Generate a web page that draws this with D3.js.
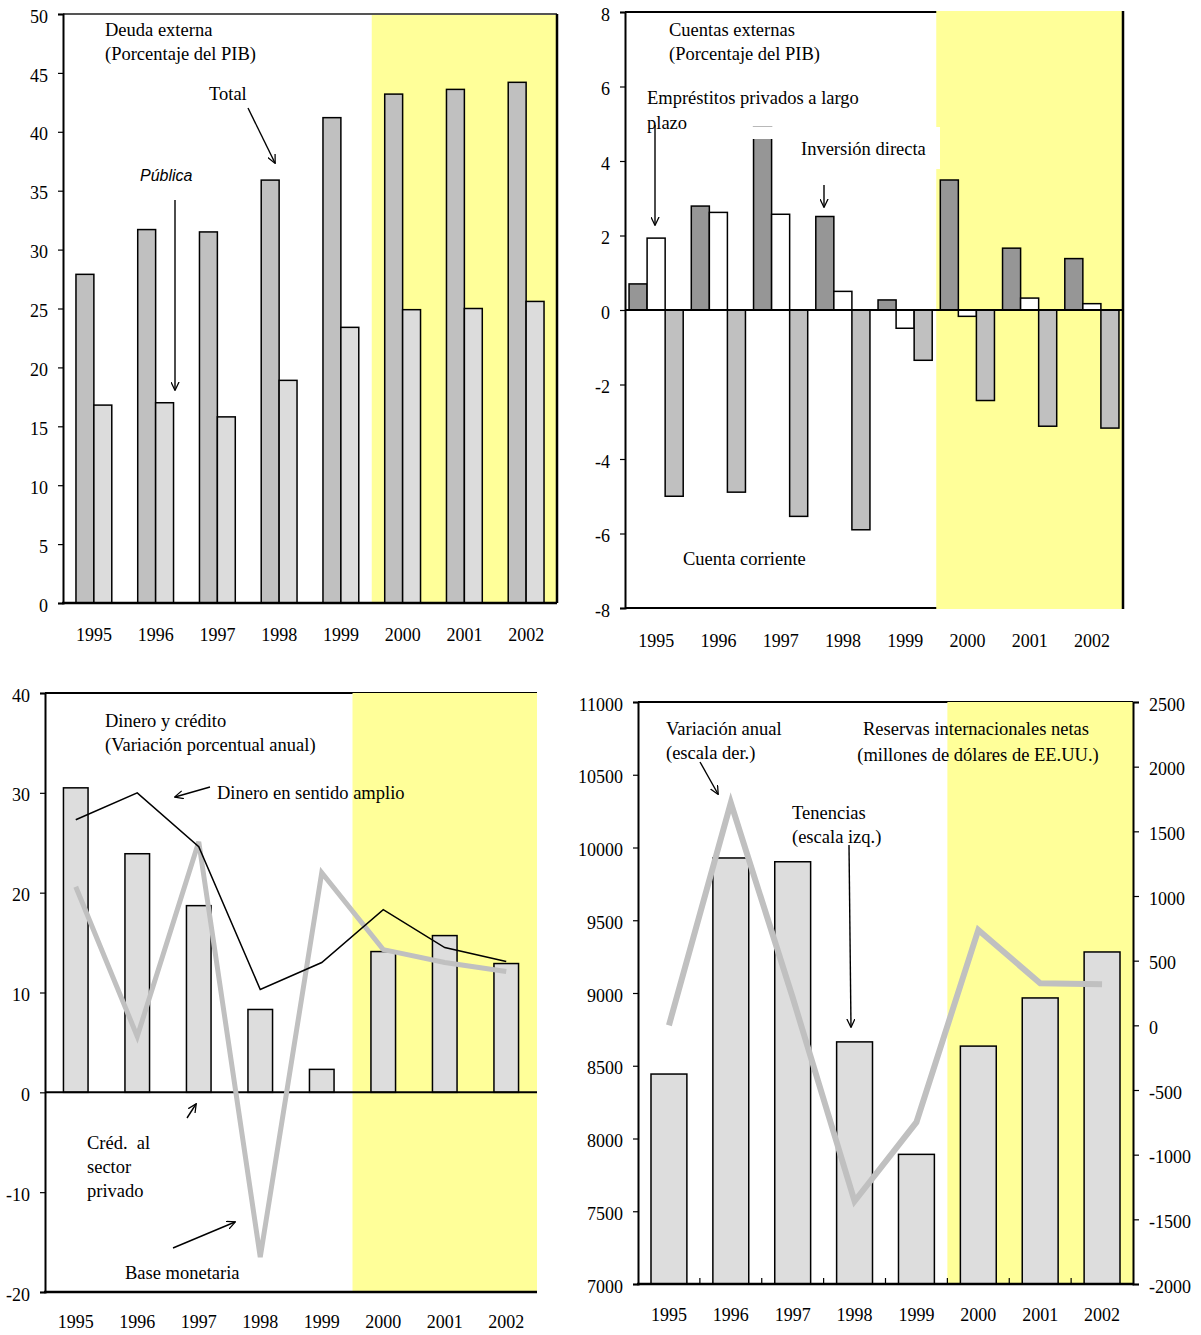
<!DOCTYPE html>
<html>
<head>
<meta charset="utf-8">
<script src="https://cdn.jsdelivr.net/npm/d3@7"></script>
<style>
body { margin: 0; background: #fff; }
svg text { font-family: "Liberation Serif", "Times New Roman", serif; fill: #000; }
</style>
</head>
<body>
<script>
var years = ["1995", "1996", "1997", "1998", "1999", "2000", "2001", "2002"];
var forecastYears = ["2000", "2001", "2002"];

// Deuda externa
var deudaTotal = [27.9, 31.7, 31.5, 35.9, 41.2, 43.2, 43.6, 44.2];
var deudaPublica = [16.8, 17.0, 15.8, 18.9, 23.4, 24.9, 25.0, 25.6];
var ticks1 = [0, 5, 10, 15, 20, 25, 30, 35, 40, 45, 50];

// Cuentas externas
var invDirecta = [0.7, 2.79, 4.9, 2.51, 0.27, 3.49, 1.66, 1.38];
var emprestitos = [1.93, 2.62, 2.57, 0.5, -0.49, -0.17, 0.32, 0.17];
var ctaCorriente = [-5.0, -4.89, -5.54, -5.9, -1.35, -2.43, -3.12, -3.17];
var ticks2 = [-8, -6, -4, -2, 0, 2, 4, 6, 8];

// Dinero y credito
var credPrivado = [30.5, 23.9, 18.7, 8.3, 2.3, 14.1, 15.7, 12.9];
var dineroAmplio = [27.3, 30.0, 24.6, 10.3, 13.0, 18.3, 14.5, 13.1];
var baseMonetaria = [20.6, 5.6, 25.1, -16.5, 22.0, 14.3, 13.0, 12.1];
var ticks3 = [-20, -10, 0, 10, 20, 30, 40];

// Reservas internacionales netas
var tenencias = [8443, 9928, 9902, 8664, 7891, 8635, 8966, 9282];
var variacion = [0, 1720, 215, -1360, -749, 738, 325, 318];
var ticks4L = [7000, 7500, 8000, 8500, 9000, 9500, 10000, 10500, 11000];
var ticks4R = [-2000, -1500, -1000, -500, 0, 500, 1000, 1500, 2000, 2500];

var svg = d3.select("body")
            .append("svg")
            .attr("width", 1201)
            .attr("height", 1335);

svg.append("defs").append("marker")
   .attr("id", "arr")
   .attr("viewBox", "0 0 10 10")
   .attr("refX", 9).attr("refY", 5)
   .attr("markerWidth", 9).attr("markerHeight", 9)
   .attr("markerUnits", "userSpaceOnUse")
   .attr("orient", "auto")
   .append("path")
   .attr("d", "M0,0.5 L9.5,5 L0,9.5")
   .attr("fill", "none")
   .attr("stroke", "#000")
   .attr("stroke-width", 1.4);

// plain hyphen for negatives, like the original
var fmt = function(d) { return String(d); };

function label(x, y, txt, opts) {
  opts = opts || {};
  return svg.append("text")
     .attr("x", x).attr("y", y)
     .attr("font-size", opts.size || 18.5)
     .attr("text-anchor", opts.anchor || "start")
     .attr("font-style", opts.italic ? "italic" : null)
     .style("font-family", opts.sans ? "'Liberation Sans', Arial, sans-serif" : null)
     .text(txt);
}

function arrow(x1, y1, x2, y2) {
  svg.append("line")
     .attr("x1", x1).attr("y1", y1).attr("x2", x2).attr("y2", y2)
     .attr("stroke", "#000").attr("stroke-width", 1.4)
     .attr("marker-end", "url(#arr)");
}

function yellow(x, yTop, yBot, xEnd) {
  // shaded area for the projection years
  var xs = x(forecastYears[0]) - (x.step() - x.bandwidth()) / 2;
  svg.append("rect")
     .attr("x", xs)
     .attr("y", yTop)
     .attr("width", xEnd - xs)
     .attr("height", yBot - yTop)
     .attr("fill", "#ffff99");
}

function leftAxis(y, ticks, x0) {
  var g = svg.append("g")
     .attr("transform", "translate(" + x0 + ",0)")
     .call(d3.axisLeft(y).tickValues(ticks).tickSize(5).tickPadding(10).tickFormat(fmt));
  g.selectAll("text").attr("font-size", 18).attr("dy", "0.45em")
   .style("font-family", "'Liberation Serif', serif");
  g.selectAll("line").attr("stroke", "#000").attr("stroke-width", 1.2);
  g.select(".domain").attr("stroke", "#000").attr("stroke-width", 2);
  return g;
}

function yearLabels(x, yPos) {
  svg.append("g").selectAll("text")
     .data(years)
     .enter()
     .append("text")
     .attr("x", function(d) { return x(d) + x.bandwidth() / 2; })
     .attr("y", yPos)
     .attr("text-anchor", "middle")
     .attr("font-size", 18)
     .text(function(d) { return d; });
}

function hline(x1, x2, y, w, c) {
  svg.append("line").attr("x1", x1).attr("x2", x2).attr("y1", y).attr("y2", y)
     .attr("stroke", c || "#000").attr("stroke-width", w || 2);
}
function vline(x, y1, y2, w, c) {
  svg.append("line").attr("x1", x).attr("x2", x).attr("y1", y1).attr("y2", y2)
     .attr("stroke", c || "#000").attr("stroke-width", w || 2);
}

// ---------------- Panel 1: Deuda externa ----------------
var x1 = d3.scaleBand().domain(years).range([63, 557]).paddingInner(0.42).paddingOuter(0.21);
var y1 = d3.scaleLinear().domain([0, 50]).range([603, 14]);
var s1 = d3.scaleBand().domain(["t", "p"]).range([0, x1.bandwidth()]);

yellow(x1, 14, 603, 557);
hline(63, 557, 14, 2, "#555");
vline(557, 14, 603, 2.5);

var bars1 = svg.append("g");
bars1.selectAll("rect.t")
   .data(deudaTotal)
   .enter()
   .append("rect")
   .attr("x", function(d, i) { return x1(years[i]) + s1("t"); })
   .attr("y", function(d) { return y1(d); })
   .attr("width", s1.bandwidth())
   .attr("height", function(d) { return y1(0) - y1(d); })
   .attr("fill", "#c0c0c0").attr("stroke", "#000").attr("stroke-width", 1.5);
bars1.selectAll("rect.p")
   .data(deudaPublica)
   .enter()
   .append("rect")
   .attr("x", function(d, i) { return x1(years[i]) + s1("p"); })
   .attr("y", function(d) { return y1(d); })
   .attr("width", s1.bandwidth())
   .attr("height", function(d) { return y1(0) - y1(d); })
   .attr("fill", "#dcdcdc").attr("stroke", "#000").attr("stroke-width", 1.5);

leftAxis(y1, ticks1, 63);
hline(62, 557, 603, 2.5);
yearLabels(x1, 641);

label(105, 36, "Deuda externa");
label(105, 60, "(Porcentaje del PIB)");
label(209, 100, "Total");
arrow(248, 108, 275, 163);
label(140, 181, "Pública", {italic: true, sans: true, size: 16});
arrow(175, 200, 175, 390);

// ---------------- Panel 2: Cuentas externas ----------------
var x2 = d3.scaleBand().domain(years).range([625, 1123]).paddingInner(0.13).paddingOuter(0.065);
var y2 = d3.scaleLinear().domain([-8, 8]).range([608, 12]);
var s2 = d3.scaleBand().domain(["inv", "emp", "cc"]).range([0, x2.bandwidth()]);

hline(625, 1123, 12, 2);
hline(625, 1123, 608, 2);
yellow(x2, 11, 609, 1123);
vline(1123, 11, 609, 2.5);

var series2 = [
  {key: "inv", vals: invDirecta, fill: "#969696"},
  {key: "emp", vals: emprestitos, fill: "#ffffff"},
  {key: "cc", vals: ctaCorriente, fill: "#c0c0c0"}
];
series2.forEach(function(s) {
  svg.append("g").selectAll("rect")
     .data(s.vals)
     .enter()
     .append("rect")
     .attr("x", function(d, i) { return x2(years[i]) + s2(s.key); })
     .attr("y", function(d) { return y2(Math.max(0, d)); })
     .attr("width", s2.bandwidth())
     .attr("height", function(d) { return Math.abs(y2(d) - y2(0)); })
     .attr("fill", s.fill).attr("stroke", "#000").attr("stroke-width", 1.5);
});

// white label box that hides the top of the 1997 bar
svg.append("rect").attr("x", 750).attr("y", 127).attr("width", 190).attr("height", 12).attr("fill", "#fff");
svg.append("rect").attr("x", 792).attr("y", 127).attr("width", 148).attr("height", 42).attr("fill", "#fff");

hline(625, 1123, y2(0), 2);
leftAxis(y2, ticks2, 625);
yearLabels(x2, 647);

label(669, 36, "Cuentas externas");
label(669, 60, "(Porcentaje del PIB)");
label(647, 104, "Empréstitos privados a largo");
label(647, 129, "plazo");
arrow(655, 125, 655, 225);
label(801, 155, "Inversión directa");
arrow(824, 185, 824, 207);
label(683, 565, "Cuenta corriente");

// ---------------- Panel 3: Dinero y credito ----------------
var x3 = d3.scaleBand().domain(years).range([45, 537]).paddingInner(0.6).paddingOuter(0.3);
var y3 = d3.scaleLinear().domain([-20, 40]).range([1292, 693]);

hline(45, 537, 693, 2);
yellow(x3, 693, 1292, 537);

svg.append("g").selectAll("rect")
   .data(credPrivado)
   .enter()
   .append("rect")
   .attr("x", function(d, i) { return x3(years[i]); })
   .attr("y", function(d) { return y3(d); })
   .attr("width", x3.bandwidth())
   .attr("height", function(d) { return y3(0) - y3(d); })
   .attr("fill", "#dddddd").attr("stroke", "#000").attr("stroke-width", 1.5);

hline(45, 537, y3(0), 2);

var line3 = d3.line()
   .x(function(d, i) { return x3(years[i]) + x3.bandwidth() / 2; })
   .y(function(d) { return y3(d); });

svg.append("path").datum(baseMonetaria)
   .attr("d", line3).attr("fill", "none")
   .attr("stroke", "#c0c0c0").attr("stroke-width", 5);
svg.append("path").datum(dineroAmplio)
   .attr("d", line3).attr("fill", "none")
   .attr("stroke", "#000").attr("stroke-width", 1.5);

leftAxis(y3, ticks3, 45);
hline(44, 537, 1292, 2.5);
yearLabels(x3, 1328);

label(105, 727, "Dinero y crédito");
label(105, 751, "(Variación porcentual anual)");
label(217, 799, "Dinero en sentido amplio");
arrow(210, 787, 175, 797);
label(87, 1149, "Créd.\u00a0\u00a0al");
label(87, 1173, "sector");
label(87, 1197, "privado");
arrow(187, 1118, 196, 1104);
label(125, 1279, "Base monetaria");
arrow(173, 1248, 235, 1222);

// ---------------- Panel 4: Reservas internacionales netas ----------------
var x4 = d3.scaleBand().domain(years).range([638, 1133]).paddingInner(0.42).paddingOuter(0.21);
var y4 = d3.scaleLinear().domain([7000, 11000]).range([1284, 702]);
var y4r = d3.scaleLinear().domain([-2000, 2500]).range([1284, 702]);

hline(638, 1133, 702, 2);
yellow(x4, 702, 1284, 1133);

svg.append("g").selectAll("rect")
   .data(tenencias)
   .enter()
   .append("rect")
   .attr("x", function(d, i) { return x4(years[i]); })
   .attr("y", function(d) { return y4(d); })
   .attr("width", x4.bandwidth())
   .attr("height", function(d) { return y4(7000) - y4(d); })
   .attr("fill", "#dddddd").attr("stroke", "#000").attr("stroke-width", 1.5);

var line4 = d3.line()
   .x(function(d, i) { return x4(years[i]) + x4.bandwidth() / 2; })
   .y(function(d) { return y4r(d); });
svg.append("path").datum(variacion)
   .attr("d", line4).attr("fill", "none")
   .attr("stroke", "#c0c0c0").attr("stroke-width", 6)
   .attr("stroke-linejoin", "miter");

leftAxis(y4, ticks4L, 638);
var gr = svg.append("g")
   .attr("transform", "translate(1133,0)")
   .call(d3.axisRight(y4r).tickValues(ticks4R).tickSize(6).tickPadding(10).tickFormat(fmt));
gr.selectAll("text").attr("font-size", 18).attr("dy", "0.45em")
  .style("font-family", "'Liberation Serif', serif");
gr.selectAll("line").attr("stroke", "#000").attr("stroke-width", 1.2);
gr.select(".domain").attr("stroke", "#000").attr("stroke-width", 2);

// inner ticks between categories
svg.append("g").selectAll("line")
   .data(years.slice(1))
   .enter()
   .append("line")
   .attr("x1", function(d) { return x4(d) - (x4.step() - x4.bandwidth()) / 2; })
   .attr("x2", function(d) { return x4(d) - (x4.step() - x4.bandwidth()) / 2; })
   .attr("y1", 1284).attr("y2", 1278)
   .attr("stroke", "#000").attr("stroke-width", 1.2);

hline(637, 1134, 1284, 2.5);
yearLabels(x4, 1321);

label(666, 735, "Variación anual");
label(666, 759, "(escala der.)");
arrow(700, 762, 718, 794);
label(976, 735, "Reservas internacionales netas", {anchor: "middle"});
label(978, 761, "(millones de dólares de EE.UU.)", {anchor: "middle"});
label(792, 819, "Tenencias");
label(792, 843, "(escala izq.)");
arrow(849, 845, 851, 1027);
</script>
</body>
</html>
